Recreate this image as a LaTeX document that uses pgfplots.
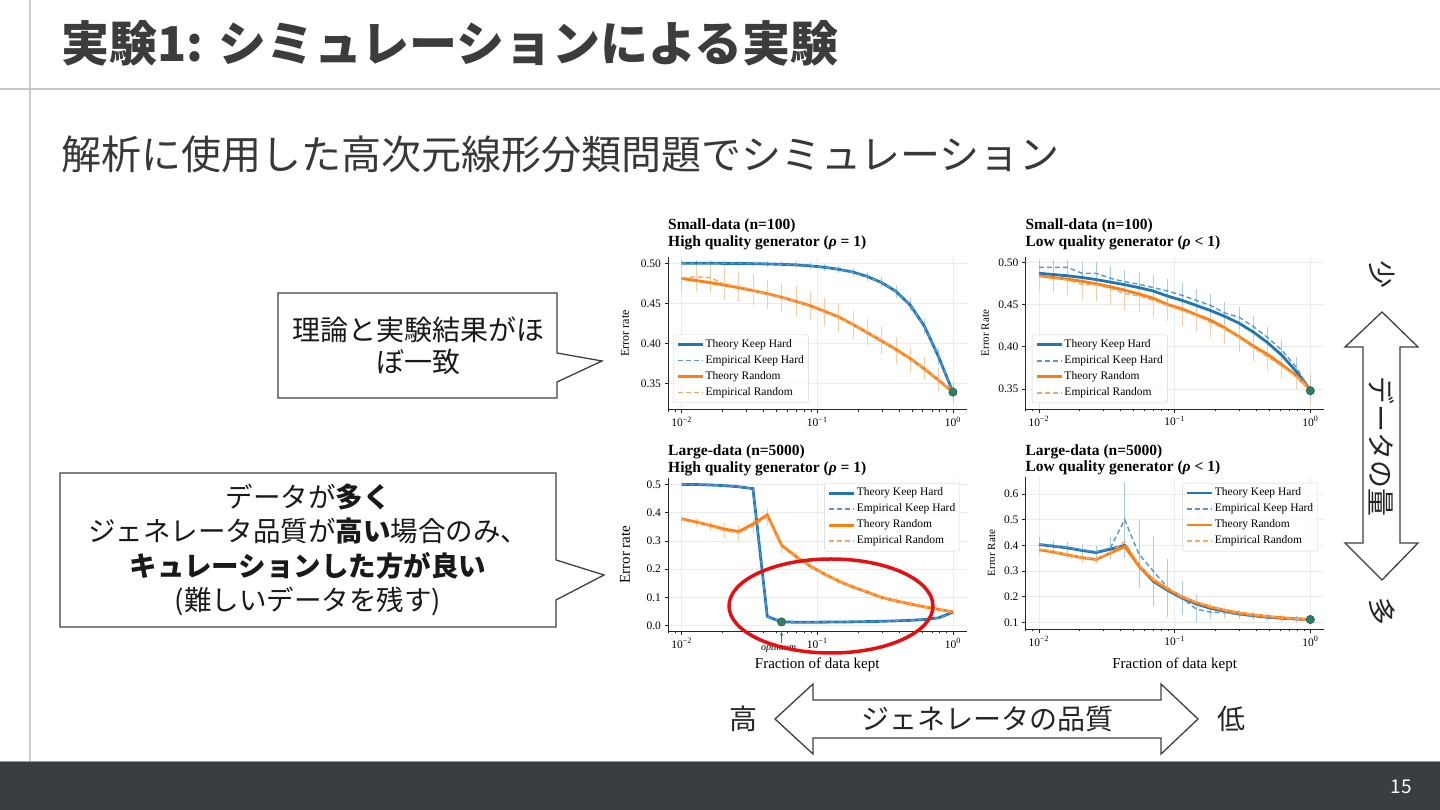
\documentclass[border=0pt]{standalone}
\usepackage{fontspec}
\setmainfont{Noto Sans CJK JP}
\newfontfamily\tms{Liberation Serif}
\usepackage{pgfplots}
\pgfplotsset{compat=1.18}
\usepackage{pgfplotstable}
\usetikzlibrary{arrows.meta}

\definecolor{cTB}{HTML}{1F77B4}
\definecolor{cTO}{HTML}{FF7F0E}
\definecolor{cEB}{HTML}{5B97C8}
\definecolor{cEO}{HTML}{F9A565}
\definecolor{cSB}{HTML}{A9CBE6}
\definecolor{cSO}{HTML}{F9CBA6}
\definecolor{gdot}{HTML}{2E7D64}
\definecolor{ttl}{HTML}{3C3C3C}
\definecolor{foot}{HTML}{393E41}
\definecolor{edge}{HTML}{404040}

\pgfplotstableread{
x        tb     eb     sb    to     eo     so
0.010000 0.5000 0.5000 0.001 0.4810 0.4820 0.0155
0.012743 0.5000 0.5000 0.001 0.4785 0.4830 0.0150
0.016238 0.5000 0.5000 0.001 0.4758 0.4820 0.0150
0.020691 0.4999 0.4999 0.001 0.4728 0.4740 0.0170
0.026367 0.4998 0.4998 0.001 0.4695 0.4710 0.0160
0.033598 0.4995 0.4996 0.001 0.4660 0.4670 0.0170
0.042813 0.4992 0.4993 0.001 0.4620 0.4610 0.0160
0.054556 0.4987 0.4988 0.001 0.4575 0.4570 0.0160
0.069519 0.4980 0.4981 0.002 0.4525 0.4530 0.0160
0.088587 0.4968 0.4970 0.002 0.4470 0.4460 0.0150
0.112884 0.4950 0.4948 0.002 0.4400 0.4390 0.0150
0.143845 0.4925 0.4927 0.002 0.4330 0.4320 0.0150
0.183298 0.4890 0.4885 0.003 0.4235 0.4230 0.0150
0.233572 0.4835 0.4830 0.003 0.4135 0.4140 0.0140
0.297635 0.4760 0.4765 0.004 0.4030 0.4040 0.0150
0.379269 0.4650 0.4645 0.005 0.3925 0.3910 0.0140
0.483293 0.4480 0.4485 0.006 0.3810 0.3800 0.0130
0.615848 0.4215 0.4210 0.007 0.3680 0.3680 0.0120
0.784760 0.3830 0.3835 0.008 0.3540 0.3550 0.0120
1.000000 0.3390 0.3390 0.010 0.3390 0.3390 0.0100
}\tabA

\pgfplotstableread{
x        tb     eb     sb    to     eo     so
0.010000 0.4870 0.4940 0.006 0.4840 0.4830 0.0150
0.012743 0.4855 0.4940 0.006 0.4820 0.4810 0.0150
0.016238 0.4840 0.4940 0.006 0.4800 0.4790 0.0150
0.020691 0.4820 0.4870 0.011 0.4775 0.4740 0.0160
0.026367 0.4795 0.4870 0.011 0.4745 0.4730 0.0160
0.033598 0.4765 0.4810 0.012 0.4710 0.4690 0.0170
0.042813 0.4735 0.4770 0.012 0.4670 0.4630 0.0170
0.054556 0.4700 0.4740 0.012 0.4625 0.4600 0.0170
0.069519 0.4660 0.4700 0.012 0.4575 0.4550 0.0170
0.088587 0.4600 0.4660 0.012 0.4500 0.4490 0.0160
0.112884 0.4550 0.4610 0.012 0.4450 0.4430 0.0160
0.143845 0.4490 0.4550 0.011 0.4380 0.4370 0.0160
0.183298 0.4430 0.4490 0.011 0.4315 0.4290 0.0150
0.233572 0.4360 0.4400 0.011 0.4225 0.4210 0.0150
0.297635 0.4280 0.4350 0.010 0.4120 0.4110 0.0150
0.379269 0.4175 0.4240 0.010 0.4010 0.3990 0.0140
0.483293 0.4050 0.4110 0.010 0.3910 0.3880 0.0140
0.615848 0.3900 0.3960 0.010 0.3790 0.3770 0.0130
0.784760 0.3710 0.3760 0.010 0.3660 0.3650 0.0130
1.000000 0.3490 0.3490 0.010 0.3490 0.3500 0.0150
}\tabB

\pgfplotstableread{
x        tb     eb     sb    to     eo     so
0.010000 0.5000 0.5000 0.001 0.3780 0.3760 0.008
0.012743 0.4995 0.4995 0.001 0.3670 0.3650 0.008
0.016238 0.4980 0.4980 0.001 0.3550 0.3530 0.010
0.020691 0.4955 0.4955 0.001 0.3420 0.3360 0.020
0.026367 0.4915 0.4915 0.001 0.3330 0.3280 0.020
0.033598 0.4850 0.4850 0.002 0.3600 0.3520 0.022
0.042813 0.0330 0.0330 0.002 0.3920 0.3850 0.025
0.054556 0.0135 0.0135 0.001 0.2850 0.2780 0.012
0.069519 0.0125 0.0125 0.001 0.2450 0.2440 0.008
0.088587 0.0125 0.0125 0.001 0.2110 0.2100 0.006
0.112884 0.0128 0.0128 0.001 0.1830 0.1830 0.005
0.143845 0.0132 0.0132 0.001 0.1580 0.1580 0.004
0.183298 0.0138 0.0138 0.001 0.1370 0.1370 0.004
0.233572 0.0146 0.0146 0.001 0.1190 0.1190 0.003
0.297635 0.0157 0.0157 0.001 0.1000 0.1000 0.003
0.379269 0.0172 0.0172 0.001 0.0880 0.0880 0.003
0.483293 0.0190 0.0190 0.001 0.0770 0.0770 0.002
0.615848 0.0220 0.0220 0.001 0.0670 0.0670 0.002
0.784760 0.0280 0.0280 0.001 0.0580 0.0580 0.002
1.000000 0.0480 0.0480 0.001 0.0490 0.0490 0.002
}\tabC

\pgfplotstableread{
x        tb     eb     sb    to     eo     so
0.010000 0.4030 0.4050 0.018 0.3830 0.3850 0.010
0.012743 0.3970 0.3990 0.015 0.3740 0.3770 0.010
0.016238 0.3900 0.3920 0.015 0.3630 0.3650 0.012
0.020691 0.3800 0.3830 0.015 0.3520 0.3520 0.012
0.026367 0.3720 0.3750 0.015 0.3450 0.3470 0.012
0.033598 0.3850 0.3900 0.035 0.3700 0.3720 0.015
0.042813 0.4000 0.5000 0.140 0.3950 0.4150 0.020
0.054556 0.3200 0.3650 0.125 0.3200 0.3250 0.015
0.069519 0.2600 0.3000 0.130 0.2650 0.2700 0.012
0.088587 0.2250 0.2350 0.105 0.2300 0.2350 0.010
0.112884 0.1950 0.1950 0.058 0.2000 0.2000 0.008
0.143845 0.1720 0.1520 0.045 0.1770 0.1800 0.007
0.183298 0.1550 0.1400 0.020 0.1600 0.1620 0.006
0.233572 0.1430 0.1380 0.012 0.1470 0.1480 0.005
0.297635 0.1330 0.1300 0.010 0.1370 0.1380 0.004
0.379269 0.1260 0.1240 0.008 0.1290 0.1300 0.004
0.483293 0.1200 0.1190 0.007 0.1230 0.1240 0.003
0.615848 0.1160 0.1150 0.006 0.1180 0.1180 0.003
0.784760 0.1130 0.1130 0.005 0.1140 0.1140 0.003
1.000000 0.1110 0.1110 0.005 0.1110 0.1110 0.003
}\tabD

\pgfplotsset{
  legend image code/.code={\draw[#1] (0pt,0pt) -- (25pt,0pt);},
  thb/.style={color=cTB, line width=2.8pt},
  thr/.style={color=cTO, line width=2.8pt},
  emb/.style={color=cEB, line width=1.4pt, dash pattern=on 5pt off 3pt},
  emr/.style={color=cEO, line width=1.4pt, dash pattern=on 5pt off 3pt},
  gdotp/.style={forget plot, only marks, mark=*, mark size=4.2pt,
    mark options={fill=gdot, draw=gdot!75!black, line width=0.5pt}},
  every axis/.append style={
    scale only axis, width=298.5pt,
    xmin=0.0079433, xmax=1.2589,
    xtick={0.01,0.1,1},
    xticklabels={{10\textsuperscript{−2}},{10\textsuperscript{−1}},{10\textsuperscript{0}}},
    minor xtick={0.008,0.009,0.02,0.03,0.04,0.05,0.06,0.07,0.08,0.09,0.2,0.3,0.4,0.5,0.6,0.7,0.8,0.9},
    axis lines=left, axis line style={-, line width=0.8pt, black!85},
    tick align=outside, major tick length=3.5pt, minor tick length=2pt,
    tick style={black!85, line width=0.7pt},
    grid=major, major grid style={black!8, line width=0.6pt},
    ticklabel style={font=\tms\fontsize{11.5}{12}\selectfont, black},
    title style={at={(0,1)}, anchor=south west, align=left,
      font=\tms\bfseries\fontsize{15.5}{16.5}\selectfont, inner sep=0pt, yshift=1pt},
    legend cell align=left,
    legend style={draw=black!18, rounded corners=2pt, fill=white, fill opacity=0.8,
      text opacity=1, font=\tms\fontsize{11.5}{12}\selectfont,
      inner xsep=3pt, inner ysep=2pt, row sep=0pt,
      nodes={inner xsep=1.5pt, inner ysep=2.75pt, text height=8pt, text depth=2.5pt}},
  },
}

\begin{document}
\begin{tikzpicture}
\path[use as bounding box] (0pt,0pt) rectangle (1440pt,810pt);
\fill[white] (0pt,0pt) rectangle (1440pt,810pt);

% ---------- slide frame ----------
\begin{scope}[x=1pt, y=-1pt, yshift=810pt]
  \draw[line width=1.5pt, black!20] (30,0) -- (30,761);
  \draw[line width=2pt, black!22] (0,89) -- (1440,89);
  \node[anchor=west, text=ttl, font=\bfseries\fontsize{48}{56}\selectfont] at (58,43) {実験1: シミュレーションによる実験};
  \node[anchor=west, text=black!78, font=\fontsize{40}{46}\selectfont] at (58,154) {解析に使用した高次元線形分類問題でシミュレーション};
  \fill[foot] (0,762) rectangle (1440,810);
  \draw[line width=1.5pt, black!40] (0,761.5) -- (1440,761.5);
  \node[text=white, font=\fontsize{19}{20}\selectfont] at (1401,787) {15};

  % callout 1
  \draw[edge, line width=1.3pt, fill=white] (278,293) -- (557,293) -- (557,353) -- (602,361) -- (557,382) -- (557,398) -- (278,398) -- cycle;
  \node[align=center, font=\fontsize{28}{31.5}\selectfont, text=black!90] at (418,346) {理論と実験結果がほ\\ぼ一致};
  % callout 2
  \draw[edge, line width=1.3pt, fill=white] (60,473) -- (556,473) -- (556,560) -- (604,575) -- (556,600) -- (556,627) -- (60,627) -- cycle;
  \node[align=center, font=\fontsize{27.5}{34.5}\selectfont, text=black!90] at (308,550) {データが\textbf{多く}\\ジェネレータ品質が\textbf{高い}場合のみ、\\\textbf{キュレーションした方が良い}\\(難しいデータを残す)};

  % bottom double arrow
  \draw[edge, line width=1.3pt, fill=white] (775,719) -- (813,684) -- (813,700) -- (1161,700) -- (1161,684) -- (1198,719) -- (1161,754) -- (1161,738) -- (813,738) -- (813,754) -- cycle;
  \node[font=\fontsize{28}{30}\selectfont, text=black!85] at (987,719) {ジェネレータの品質};
  \node[font=\fontsize{28}{30}\selectfont, text=black!85] at (743,719) {高};
  \node[font=\fontsize{28}{30}\selectfont, text=black!85] at (1231,719) {低};

  % right double arrow
  \draw[edge, line width=1.3pt, fill=white] (1382,312) -- (1418,347) -- (1400,347) -- (1400,543) -- (1418,543) -- (1382,580) -- (1345,543) -- (1363,543) -- (1363,347) -- (1345,347) -- cycle;
  \node[rotate=-90, font=\fontsize{28}{30}\selectfont, text=black!85] at (1382,447) {データの量};
  \node[rotate=-90, font=\fontsize{28}{30}\selectfont, text=black!85] at (1382,275) {少};
  \node[rotate=-90, font=\fontsize{28}{30}\selectfont, text=black!85] at (1382,612) {多};
\end{scope}

% ---------- plot 1 ----------
\begin{semilogxaxis}[at={(668pt,400.3pt)}, anchor=south west, height=152.8pt,
  ymin=0.317, ymax=0.508, ytick={0.35,0.40,0.45,0.50}, yticklabels={0.35,0.40,0.45,0.50},
  ylabel={Error rate}, ylabel style={font=\tms\fontsize{12}{12}\selectfont, at={(-0.144,0.5)}, anchor=center},
  title={Small-data (n=100)\\High quality generator ({\itshape ρ} = 1)},
  legend style={at={(0.017,0.044)}, anchor=south west}]
  \addplot[forget plot, draw=none, mark=none, error bars/y dir=both, error bars/y explicit, error bars/error bar style={draw=cSO, line width=0.6pt}, error bars/error mark options={draw=cSO, mark size=2pt, line width=0.6pt}] table[x=x, y=eo, y error=so] {\tabA};
  \addplot[forget plot, draw=none, mark=none, error bars/y dir=both, error bars/y explicit, error bars/error bar style={draw=cSB, line width=0.6pt}, error bars/error mark options={draw=cSB, mark size=2pt, line width=0.6pt}] table[x=x, y=eb, y error=sb] {\tabA};
  \addplot[thb] table[x=x, y=tb] {\tabA}; \addlegendentry{Theory Keep Hard}
  \addplot[emb] table[x=x, y=eb] {\tabA}; \addlegendentry{Empirical Keep Hard}
  \addplot[thr] table[x=x, y=to] {\tabA}; \addlegendentry{Theory Random}
  \addplot[emr] table[x=x, y=eo] {\tabA}; \addlegendentry{Empirical Random}
  \addplot[gdotp] coordinates {(1,0.339)};
\end{semilogxaxis}

% ---------- plot 2 ----------
\begin{semilogxaxis}[at={(1025.4pt,400.7pt)}, anchor=south west, height=152.6pt,
  ymin=0.326, ymax=0.5066, ytick={0.35,0.40,0.45,0.50}, yticklabels={0.35,0.40,0.45,0.50},
  ylabel={Error Rate}, ylabel style={font=\tms\fontsize{11}{12}\selectfont, at={(-0.134,0.5)}, anchor=center},
  title={Small-data (n=100)\\Low quality generator ({\itshape ρ} < 1)},
  legend style={at={(0.022,0.041)}, anchor=south west}]
  \addplot[forget plot, draw=none, mark=none, error bars/y dir=both, error bars/y explicit, error bars/error bar style={draw=cSO, line width=0.6pt}, error bars/error mark options={draw=cSO, mark size=2pt, line width=0.6pt}] table[x=x, y=eo, y error=so] {\tabB};
  \addplot[forget plot, draw=none, mark=none, error bars/y dir=both, error bars/y explicit, error bars/error bar style={draw=cSB, line width=0.6pt}, error bars/error mark options={draw=cSB, mark size=2pt, line width=0.6pt}] table[x=x, y=eb, y error=sb] {\tabB};
  \addplot[thb] table[x=x, y=tb] {\tabB}; \addlegendentry{Theory Keep Hard}
  \addplot[emb] table[x=x, y=eb] {\tabB}; \addlegendentry{Empirical Keep Hard}
  \addplot[thr] table[x=x, y=to] {\tabB}; \addlegendentry{Theory Random}
  \addplot[emr] table[x=x, y=eo] {\tabB}; \addlegendentry{Empirical Random}
  \addplot[gdotp] coordinates {(1,0.348)};
\end{semilogxaxis}

% ---------- plot 3 ----------
\begin{semilogxaxis}[at={(668pt,178.6pt)}, anchor=south west, height=153.8pt,
  ymin=-0.02, ymax=0.524, ytick={0,0.1,0.2,0.3,0.4,0.5}, yticklabels={0.0,0.1,0.2,0.3,0.4,0.5},
  ylabel={Error rate}, ylabel style={font=\tms\fontsize{15}{16}\selectfont, at={(-0.144,0.5)}, anchor=center},
  xlabel={Fraction of data kept}, xlabel style={font=\tms\fontsize{15}{16}\selectfont, at={(0.5,-0.218)}, anchor=center},
  title={Large-data (n=5000)\\High quality generator ({\itshape ρ} = 1)},
  title style={yshift=-5.5pt},
  legend style={at={(0.978,0.965)}, anchor=north east}]
  \addplot[forget plot, draw=none, mark=none, error bars/y dir=both, error bars/y explicit, error bars/error bar style={draw=cSO, line width=0.6pt}, error bars/error mark options={draw=cSO, mark size=2pt, line width=0.6pt}] table[x=x, y=eo, y error=so] {\tabC};
  \addplot[thb] table[x=x, y=tb] {\tabC}; \addlegendentry{Theory Keep Hard}
  \addplot[emb] table[x=x, y=eb] {\tabC}; \addlegendentry{Empirical Keep Hard}
  \addplot[thr] table[x=x, y=to] {\tabC}; \addlegendentry{Theory Random}
  \addplot[emr] table[x=x, y=eo] {\tabC}; \addlegendentry{Empirical Random}
  \addplot[gdotp] coordinates {(0.054556,0.0135)};
  \coordinate (opt) at (axis cs:0.054556,-0.02);
\end{semilogxaxis}
\draw[-{Stealth[length=4pt,width=3.5pt]}, gdot, line width=0.8pt] ([yshift=-12pt]opt) -- ([yshift=-0.5pt]opt);
\node[font=\tms\itshape\fontsize{10}{10}\selectfont, anchor=north, inner sep=0pt] at ([yshift=-12.5pt,xshift=-3pt]opt) {optimum};

% ---------- plot 4 ----------
\begin{semilogxaxis}[at={(1025.4pt,180.7pt)}, anchor=south west, height=152.5pt,
  ymin=0.073, ymax=0.667, ytick={0.1,0.2,0.3,0.4,0.5,0.6}, yticklabels={0.1,0.2,0.3,0.4,0.5,0.6},
  ylabel={Error Rate}, ylabel style={font=\tms\fontsize{11}{12}\selectfont, at={(-0.113,0.5)}, anchor=center},
  xlabel={Fraction of data kept}, xlabel style={font=\tms\fontsize{15}{16}\selectfont, at={(0.5,-0.234)}, anchor=center},
  title={Large-data (n=5000)\\Low quality generator ({\itshape ρ} < 1)},
  title style={yshift=-5.5pt},
  legend style={at={(0.98,0.96)}, anchor=north east}]
  \addplot[forget plot, draw=none, mark=none, error bars/y dir=both, error bars/y explicit, error bars/error bar style={draw=cSO, line width=0.6pt}, error bars/error mark options={draw=cSO, mark size=2pt, line width=0.6pt}] table[x=x, y=eo, y error=so] {\tabD};
  \addplot[forget plot, draw=none, mark=none, error bars/y dir=both, error bars/y explicit, error bars/error bar style={draw=cSB, line width=0.6pt}, error bars/error mark options={draw=cSB, mark size=2pt, line width=0.6pt}] table[x=x, y=eb, y error=sb] {\tabD};
  \addplot[thb] table[x=x, y=tb] {\tabD}; \addlegendentry{Theory Keep Hard}
  \addplot[emb] table[x=x, y=eb] {\tabD}; \addlegendentry{Empirical Keep Hard}
  \addplot[thr] table[x=x, y=to] {\tabD}; \addlegendentry{Theory Random}
  \addplot[emr] table[x=x, y=eo] {\tabD}; \addlegendentry{Empirical Random}
  \addplot[gdotp] coordinates {(1,0.111)};
\end{semilogxaxis}

% red ellipse
\begin{scope}[x=1pt, y=-1pt, yshift=810pt]
  \draw[color={rgb,255:red,228;green,16;blue,20}, line width=3.5pt] (831,606) ellipse [x radius=102, y radius=47];
\end{scope}
\end{tikzpicture}
\end{document}
